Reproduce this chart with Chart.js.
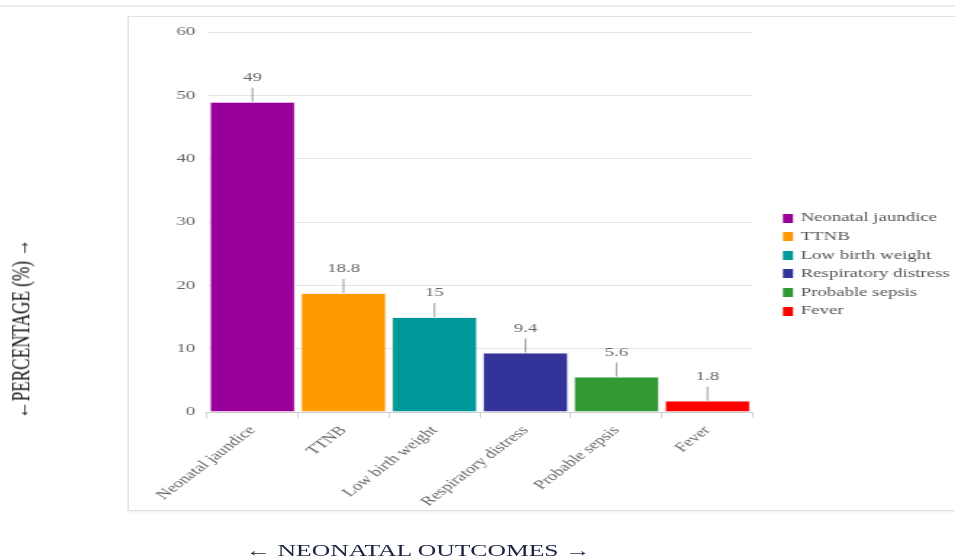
<!DOCTYPE html>
<html>
<head>
<meta charset="utf-8">
<script src="https://cdn.jsdelivr.net/npm/chart.js@4.4.1/dist/chart.umd.min.js"></script>
<style>
  html, body { margin: 0; padding: 0; background: #fff; overflow: hidden; }
  #outer { position: relative; width: 955px; height: 557px; overflow: hidden; }
  #wrap { position: absolute; left: 0; top: 0; width: 659px; height: 557px; transform: scaleX(1.4492); transform-origin: 0 0; font-family: "Liberation Serif", "DejaVu Serif", serif; }
  #topline { position: absolute; left: 0; top: 5px; width: 659px; height: 0; border-top: 2px solid #ececec; }
  #frame { position: absolute; left: 87.6px; top: 16px; width: 620px; height: 493px; border: 1px solid #e2e2e2; box-shadow: 0 1px 2px #eee; }
  canvas { position: absolute; left: 0; top: 0; }
  #ytitle { position: absolute; left: 15.2px; top: 329px; transform: translate(-50%, -50%) rotate(-90deg); white-space: nowrap; font-size: 17.2px; color: #111; }
  #xtitle { position: absolute; left: 288.5px; top: 550px; transform: translate(-50%, -50%); white-space: nowrap; font-size: 17.7px; color: #1c2340; }
</style>
</head>
<body>
<div id="outer">
<div id="wrap">
  <div id="topline"></div>
  <div id="frame"></div>
  <canvas id="c" width="659" height="557"></canvas>
  <div id="ytitle">←PERCENTAGE (%) →</div>
  <div id="xtitle">← NEONATAL OUTCOMES →</div>
</div>
</div>
<script>
const categories = ["Neonatal jaundice", "TTNB", "Low birth weight", "Respiratory distress", "Probable sepsis", "Fever"];
const percentages = [49, 18.8, 15, 9.4, 5.6, 1.8];
const barColors = ["#990099", "#ff9900", "#009999", "#333399", "#339933", "#ff0000"];
const yTicks = [0, 10, 20, 30, 40, 50, 60];

const FONT = "Liberation Serif";

const valueLabels = {
  id: "valueLabels",
  afterDatasetsDraw(chart) {
    const ctx = chart.ctx;
    const meta = chart.getDatasetMeta(0);
    ctx.save();
    ctx.font = "13px '" + FONT + "'";
    ctx.fillStyle = "#666";
    ctx.textAlign = "center";
    ctx.textBaseline = "middle";
    ctx.strokeStyle = "#999";
    ctx.lineWidth = 1;
    meta.data.forEach((bar, i) => {
      const v = chart.data.datasets[0].data[i];
      const x = bar.x;
      const top = bar.y;
      ctx.beginPath();
      ctx.moveTo(x, top - 14);
      ctx.lineTo(x, top);
      ctx.stroke();
      ctx.fillText(String(v), x, top - 24);
    });
    ctx.restore();
  }
};

const sideLegend = {
  id: "sideLegend",
  afterDraw(chart) {
    const ctx = chart.ctx;
    const labels = chart.data.labels;
    const colors = chart.data.datasets[0].backgroundColor;
    ctx.save();
    ctx.font = "13px '" + FONT + "'";
    ctx.textAlign = "left";
    ctx.textBaseline = "middle";
    labels.forEach((lab, i) => {
      const y = 218 + i * 18.6;
      ctx.fillStyle = colors[i];
      ctx.fillRect(540.3, Math.round(y - 4.5), 6.9, 9);
      ctx.fillStyle = "#555";
      ctx.fillText(lab, 552.4, y);
    });
    ctx.restore();
  }
};

new Chart(document.getElementById("c"), {
  type: "bar",
  data: {
    labels: categories,
    datasets: [{
      data: percentages,
      backgroundColor: barColors,
      borderColor: "#f0f0f0",
      borderWidth: 1,
      barPercentage: 0.945,
      categoryPercentage: 1.0
    }]
  },
  options: {
    responsive: false,
    animation: false,
    layout: { padding: { left: 88, right: 139.4, top: 32, bottom: 0 } },
    plugins: {
      legend: { display: false },
      tooltip: { enabled: false }
    },
    scales: {
      x: {
        offset: true,
        grid: { drawOnChartArea: false, drawTicks: true, tickLength: 6, color: "#d6d6d6", offset: true },
        border: { display: true, color: "#cccccc" },
        ticks: {
          font: { family: FONT, size: 13 },
          color: "#666",
          minRotation: 47.5,
          maxRotation: 47.5,
          padding: 5,
          autoSkip: false
        },
        afterFit(scale) { scale.height = 145; }
      },
      y: {
        min: 0,
        max: 60,
        afterBuildTicks(scale) { scale.ticks = yTicks.map(v => ({ value: v })); },
        grid: { color: "#e4e4e4", drawTicks: false },
        border: { display: false },
        ticks: {
          font: { family: FONT, size: 13 },
          color: "#666",
          padding: 8
        },
        afterFit(scale) { scale.width = 54.8; }
      }
    }
  },
  plugins: [valueLabels, sideLegend]
});
</script>
</body>
</html>
